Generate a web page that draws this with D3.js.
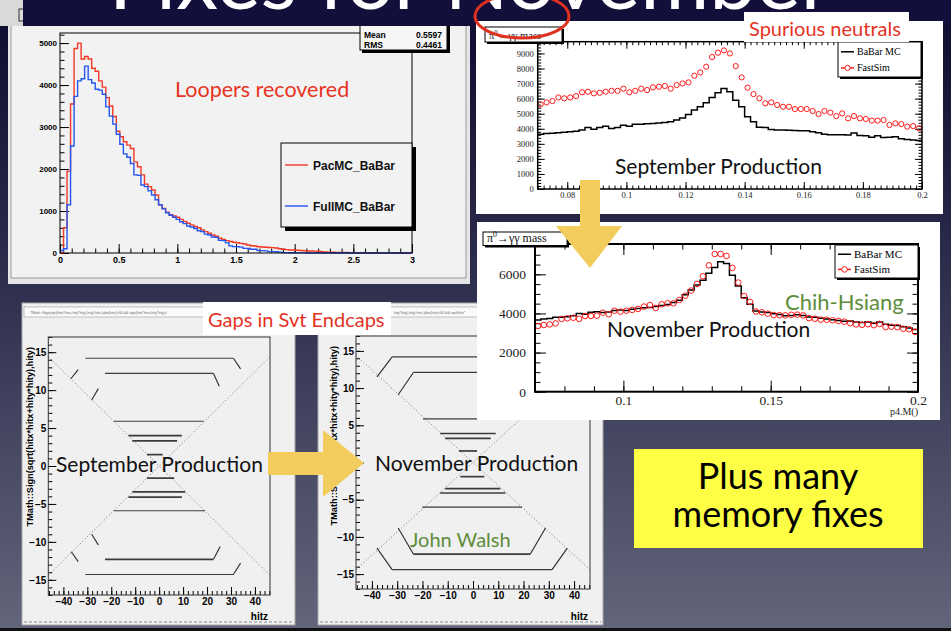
<!DOCTYPE html>
<html>
<head>
<meta charset="utf-8">
<script src="https://cdn.jsdelivr.net/npm/d3@7"></script>
<style>
body{margin:0;background:#111;}
svg{display:block;}
</style>
</head>
<body>
<script>
// ---------- data ----------
// loopers histogram, bins of 0.03 from 0 to 3
const looperBinWidth = 0.03;
const pacmc = [0,600,1950,3550,4870,5000,4620,4680,4620,4400,
	4330,4100,3950,3700,3500,3250,2900,2770,2650,2570,
	2490,2170,2055,1860,1640,1580,1500,1380,1150,1060,
	970,910,880,850,800,750,710,670,630,600,
	550,510,470,430,400,350,320,295,275,255,
	245,230,215,190,172,165,150,142,136,132,
	128,118,100,88,80,72,70,65,60,55,
	48,47,44,40,30,25,20,17,15,14,
	12,12,10,10,8,8,6,6,5,5,
	4,4,3,2,0,0,0,0,0,0];
const fullmc = [60,100,1150,2550,3730,4100,4150,4450,4130,4050,
	3900,3880,3780,3480,3260,3070,2830,2590,2360,2280,
	2130,1860,1850,1620,1580,1480,1380,1270,1150,1050,
	960,900,850,800,746,700,643,620,584,530,
	508,450,429,380,373,300,294,240,170,151,
	151,140,111,111,88,88,56,56,50,32,
	32,30,20,8,8,5,3,3,2,2,
	1,1,1,0,0,0,0,0,0,0,
	0,0,0,0,0,0,0,0,0,0,
	0,0,0,0,0,0,0,0,0,0];
const looperXTicks = [0,0.5,1,1.5,2,2.5,3];
const looperYTicks = [0,1000,2000,3000,4000,5000];

// pi0 mass histograms, bins of 0.002 from 0.07 to 0.2
const massStart = 0.07, massBin = 0.002;
const septBabar = [3640,3680,3700,3740,3770,3800,3830,3910,4080,3960,
	4080,4170,4020,4080,4240,4170,4300,4300,4330,4350,
	4390,4420,4460,4580,4720,4950,5240,5460,5730,6080,
	6390,6680,6460,5900,5460,4800,4470,4100,4090,3950,
	3920,3920,3900,3880,3870,3870,3800,3740,3640,3610,
	3600,3600,3590,3720,3560,3540,3430,3540,3420,3440,
	3470,3340,3280,3250,3220];
const septFast = [5620,5750,5840,6080,6020,6080,6170,6420,6460,6350,
	6390,6460,6520,6520,6660,6420,6520,6660,6570,6750,
	6790,6840,6660,6900,7010,7080,7520,7740,8120,8760,
	9050,9200,9000,8160,7410,6730,6300,6020,5690,5750,
	5580,5460,5460,5310,5310,5310,5180,4980,5180,5070,
	4840,5020,4690,4840,4690,4650,4540,4540,4580,4250,
	4360,4310,4140,4180,4030];
const novBabar = [3665,3716,3740,3800,3810,3830,3880,4000,3960,4060,
	4090,4050,4070,4150,4177,4150,4210,4250,4290,4300,
	4360,4400,4460,4560,4680,4960,5200,5450,5700,6050,
	6350,6640,6550,5950,5400,4800,4470,4130,4080,4050,
	3980,3940,3880,3900,3930,3900,3820,3800,3760,3720,
	3680,3640,3600,3620,3560,3540,3560,3500,3560,3450,
	3400,3380,3320,3250,3180];
const novFast = [3360,3410,3440,3490,3720,3750,3780,3720,3870,3870,
	3890,4040,3960,4140,4090,4140,4180,4230,4350,4430,
	4280,4470,4520,4520,4690,4910,5170,5510,5900,6460,
	7040,7040,6940,6330,5580,4890,4590,4100,4060,3990,
	3920,3910,3900,3930,3940,3900,3760,3730,3680,3680,
	3650,3620,3580,3500,3440,3420,3450,3400,3460,3300,
	3320,3300,3220,3190,3060];
const septMassYTicks = [0,1000,2000,3000,4000,5000,6000,7000,8000,9000];
const septMassXTicks = [0.08,0.1,0.12,0.14,0.16,0.18,0.2];
const novMassYTicks = [0,2000,4000,6000];
const novMassXTicks = [0.1,0.15,0.2];

// svt hit maps: layers [y, zFrom, zTo, heavy], endcap pieces [z0,y0,z1,y1]
const hitzTicks = [-40,-30,-20,-10,0,10,20,30,40];
const hityTicks = [-15,-10,-5,0,5,10,15];
const septLayers = [[14.2,-30.8,31,0],[12.2,-22.6,22.7,0],[5.9,-19,18.6,0],[4.0,-12.8,9.5,1],
	[3.3,-11.2,7.5,1],[1.5,-5.1,1.5,1],[-1.6,-5.1,6.3,1],[-3.4,-11.2,10.9,1],
	[-4.1,-12.8,9.5,1],[-5.9,-19,19.2,0],[-12.3,-22.6,22.7,1],[-14.3,-30.8,31,0]];
const septEndcaps = [[31,14.2,34,12.8],[22.7,12.2,25.1,10.5],[22.7,-12.3,25.5,-10.6],[31,-14.3,34,-12.8],
	[-36.9,11.5,-33.8,12.7],[-28.2,8.7,-25.4,10.2],[-28.2,-9.0,-25.4,-10.4],[-36.7,-11.3,-33.8,-12.6]];
const novLayers = [[14.2,-32,32,0],[12.1,-23.6,23.6,0],[5.85,-19.8,17,0],[3.9,-13,9,1],
	[3.25,-11,7,1],[1.55,-5.6,1.6,1],[-1.9,-5,4.5,1],[-3.5,-11,10.8,1],
	[-4.1,-13,12.8,1],[-6.0,-20.1,19.4,0],[-12.3,-23.6,22.7,1],[-14.4,-32,31.3,0]];
const novEndcaps = [[-32,14.2,-38,11.5],[-23.6,12.1,-29.6,9.1],[32,14.2,38,11.5],[23.6,12.1,29.6,9.1],
	[-23.6,-12.3,-29.6,-8.8],[22.7,-12.3,28.7,-8.8],[-32,-14.4,-38,-11.5],[31.3,-14.4,37.3,-11.5]];
const coneLines = [[-46.3,14.4,46.3,-14.4],[-46.3,-14.4,46.3,14.4]];

// ---------- helpers ----------
const W=951, H=631;
const slideFont='Lato, "Open Sans", sans-serif';
const rootFont='"Liberation Sans", Arial, sans-serif';
const timesFont='"Liberation Serif", "DejaVu Serif", serif';

const svg=d3.select('body').append('svg').attr('width',W).attr('height',H);
const defs=svg.append('defs');
const grad=defs.append('linearGradient').attr('id','bg').attr('x1',0).attr('y1',0).attr('x2',0).attr('y2',1);
grad.append('stop').attr('offset','0%').attr('stop-color','#0e0a30');
grad.append('stop').attr('offset','40%').attr('stop-color','#2a2a4a');
grad.append('stop').attr('offset','100%').attr('stop-color','#63657a');
defs.append('clipPath').attr('id','titleclip').append('rect').attr('x',0).attr('y',0).attr('width',W).attr('height',11);

function rootAxis(g,scale,orient,pos,major,minor,majLen,minLen,fmt,font,size,pad){
	const mk= orient==='bottom'?d3.axisBottom: orient==='top'?d3.axisTop: orient==='left'?d3.axisLeft:d3.axisRight;
	const tr= (orient==='bottom'||orient==='top')?`translate(0,${pos})`:`translate(${pos},0)`;
	if(minor)
		g.append('g').attr('transform',tr)
			.call(mk(scale).tickValues(minor).tickSizeInner(-minLen).tickSizeOuter(0).tickFormat(''))
			.call(a=>a.select('.domain').remove())
			.attr('color','#000');
	const ax=g.append('g').attr('transform',tr)
		.call(mk(scale).tickValues(major).tickSizeInner(-majLen).tickSizeOuter(0).tickPadding(pad||3).tickFormat(fmt||''))
		.call(a=>a.select('.domain').remove());
	ax.attr('font-family',font||rootFont).attr('font-size',size||9).attr('color','#000');
	return ax;
}

function histPoints(vals,start,w){
	const pts=vals.map((v,i)=>[start+i*w,v]);
	pts.push([start+vals.length*w,vals[vals.length-1]]);
	return pts;
}

function slideText(x,y,txt,size,color,anchor){
	return svg.append('text').attr('x',x).attr('y',y)
		.attr('font-family',slideFont).attr('font-size',size)
		.attr('fill',color).attr('text-anchor',anchor||'start').text(txt);
}

const minus=d=> d<0 ? '\u2212'+(-d) : String(d);

// ---------- background ----------
svg.append('rect').attr('width',W).attr('height',H).attr('fill','url(#bg)');

// ---------- loopers panel (top left) ----------
const lp=svg.append('g');
lp.append('rect').attr('x',8).attr('y',0).attr('width',462).attr('height',284).attr('fill','#e6e6e6');
lp.append('rect').attr('x',11).attr('y',-2).attr('width',455).attr('height',280)
	.attr('fill','#f2f2f2').attr('stroke','#9a9a9a');

const lx=d3.scaleLinear().domain([0,3]).range([60,412]);
const ly=d3.scaleLinear().domain([0,5240]).range([253,33]);

rootAxis(lp,ly,'left',60,looperYTicks,d3.range(0,5241,200),9,4.5,d=>d,rootFont,8,3)
	.attr('font-weight','bold');
rootAxis(lp,lx,'bottom',253,looperXTicks,d3.range(0,3.001,0.1),9,4.5,d=>d,rootFont,9,4)
	.attr('font-weight','bold');

const lline=d3.line().x(d=>lx(d[0])).y(d=>ly(d[1])).curve(d3.curveStepAfter);
lp.append('path').attr('d',lline(histPoints(pacmc,0,looperBinWidth)))
	.attr('fill','none').attr('stroke','#f03a26').attr('stroke-width',1.4);
lp.append('path').attr('d',lline(histPoints(fullmc,0,looperBinWidth)))
	.attr('fill','none').attr('stroke','#2357f0').attr('stroke-width',1.4);
lp.append('rect').attr('x',60).attr('y',33).attr('width',352).attr('height',220)
	.attr('fill','none').attr('stroke','#000');

// stats box
lp.append('rect').attr('x',362).attr('y',14).attr('width',88).attr('height',39).attr('fill','#000');
lp.append('rect').attr('x',360).attr('y',12).attr('width',87).attr('height',38)
	.attr('fill','#f6f6f6').attr('stroke','#000');
[['Mean','0.5597',38],['RMS','0.4461',48]].forEach(r=>{
	lp.append('text').attr('x',364).attr('y',r[2]).attr('font-family',rootFont).attr('font-weight','bold')
		.attr('font-size',8.5).text(r[0]);
	lp.append('text').attr('x',442).attr('y',r[2]).attr('font-family',rootFont).attr('font-weight','bold')
		.attr('font-size',8.5).attr('text-anchor','end').text(r[1]);
});

// legend
lp.append('rect').attr('x',285).attr('y',147).attr('width',131).attr('height',84).attr('fill','#000');
lp.append('rect').attr('x',281).attr('y',143).attr('width',131).attr('height',84)
	.attr('fill','#f2f2f2').attr('stroke','#000');
[['PacMC_BaBar','#f03a26',165],['FullMC_BaBar','#2357f0',206]].forEach(r=>{
	lp.append('line').attr('x1',285).attr('x2',308).attr('y1',r[2]).attr('y2',r[2])
		.attr('stroke',r[1]).attr('stroke-width',1.4);
	lp.append('text').attr('x',313).attr('y',r[2]+4.5).attr('font-family',rootFont).attr('font-weight','bold')
		.attr('font-size',12).attr('fill','#111').text(r[0]);
});
slideText(175,97,'Loopers recovered',21.5,'#e8331f');

// ---------- title band ----------
svg.append('rect').attr('x',0).attr('y',0).attr('width',23).attr('height',26).attr('fill','#d9d9d9');
svg.append('rect').attr('x',19).attr('y',9).attr('width',8).attr('height',12).attr('fill','none').attr('stroke','#333');
svg.append('rect').attr('x',23).attr('y',0).attr('width',W-23).attr('height',26).attr('fill','#130f3b');
svg.append('g').attr('clip-path','url(#titleclip)')
	.append('text').attr('x',470).attr('y',9).attr('font-family',slideFont).attr('font-size',84)
	.attr('fill','#fff').attr('text-anchor','middle').text('Fixes for November');

// ---------- svt hit maps ----------
function hitPanel(px,pw,fx0,fx1,fy0,fy1,layers,endcaps,titleX,tiny){
	const g=svg.append('g');
	g.append('rect').attr('x',px).attr('y',303).attr('width',pw).attr('height',322)
		.attr('fill','#f0f0f0').attr('stroke','#a8a8a8');
	g.append('line').attr('x1',px+2).attr('x2',px+pw-2).attr('y1',622).attr('y2',622)
		.attr('stroke','#888').attr('stroke-dasharray','3,2');
	g.append('rect').attr('x',px+2).attr('y',307).attr('width',pw-6).attr('height',10)
		.attr('fill','#fafafa').attr('stroke','#999').attr('stroke-width',0.6);
	g.append('text').attr('x',tiny[0]).attr('y',313.5).attr('font-family',rootFont).attr('font-size',3.6)
		.attr('fill','#666').text(tiny[1]);
	const x=d3.scaleLinear().domain([-46.3,46.3]).range([fx0,fx1]);
	const y=d3.scaleLinear().domain([-17,17]).range([fy1,fy0]);
	g.selectAll('line.cone').data(coneLines).join('line').attr('class','cone')
		.attr('x1',d=>x(d[0])).attr('y1',d=>y(d[1])).attr('x2',d=>x(d[2])).attr('y2',d=>y(d[3]))
		.attr('stroke','#777').attr('stroke-width',0.9).attr('stroke-dasharray','1.2,2.2');
	g.selectAll('line.layer').data(layers).join('line').attr('class','layer')
		.attr('x1',d=>x(d[1])).attr('x2',d=>x(d[2])).attr('y1',d=>y(d[0])).attr('y2',d=>y(d[0]))
		.attr('stroke','#1c1c1c').attr('stroke-opacity',0.85).attr('stroke-width',d=>d[3]?1.7:1.2);
	g.selectAll('line.cap').data(endcaps).join('line').attr('class','cap')
		.attr('x1',d=>x(d[0])).attr('y1',d=>y(d[1])).attr('x2',d=>x(d[2])).attr('y2',d=>y(d[3]))
		.attr('stroke','#2a2a2a').attr('stroke-width',1.1);
	rootAxis(g,y,'left',fx0,hityTicks,d3.range(-17,17.01,1),8,4,minus,rootFont,10,2)
		.attr('font-weight','bold');
	rootAxis(g,x,'bottom',fy1,hitzTicks,d3.range(-46,46.01,2),8,4,minus,rootFont,10,3)
		.attr('font-weight','bold');
	g.append('rect').attr('x',fx0).attr('y',fy0).attr('width',fx1-fx0).attr('height',fy1-fy0)
		.attr('fill','none').attr('stroke','#333');
	g.append('text').attr('x',fx1-2).attr('y',620).attr('font-family',rootFont).attr('font-weight','bold')
		.attr('font-size',10).attr('text-anchor','end').text('hitz');
	g.append('text').attr('transform',`translate(${titleX},${fy0+10}) rotate(-90)`)
		.attr('font-family',rootFont).attr('font-weight','bold').attr('font-size',9.2)
		.attr('text-anchor','end').text('TMath::Sign(sqrt(hitx*hitx+hity*hity),hity)');
	return g;
}
hitPanel(22,273,48.3,270,337,595,septLayers,septEndcaps,33,
	[30,'TMath::Sign(sqrt(hitx*hitx+hity*hity),hity):hitz {abs(hitz)<60 && sqrt(hitx*hitx+hity*hity)<']);
hitPanel(318,285,356,590,336,589,novLayers,novEndcaps,337,
	[394,'hity*hity),hity):hitz {abs(hitz)<60 && sqrt(hitx*']);
slideText(56,472,'September Production',21,'#111');
slideText(375,471,'November Production',21,'#111');
slideText(410,547,'John Walsh',20,'#5e8c3a');

svg.append('rect').attr('x',203).attr('y',302).attr('width',188).attr('height',33).attr('fill','#fff');
slideText(208,327,'Gaps in Svt Endcaps',20,'#e3321f');

// right arrow
svg.append('path')
	.attr('d','M268,452 L323,452 L323,430 L364,463 L323,497 L323,475 L268,475 Z')
	.attr('fill','#f2cd5e');

// ---------- pi0 mass plots ----------
function massPanel(cfg){
	const g=svg.append('g');
	g.append('rect').attr('x',cfg.box[0]).attr('y',cfg.box[1]).attr('width',cfg.box[2]).attr('height',cfg.box[3])
		.attr('fill','#fff');
	const x=d3.scaleLinear().domain([0.07,0.2]).range(cfg.fx);
	const y=d3.scaleLinear().domain([0,cfg.ymax]).range([cfg.fy[1],cfg.fy[0]]);
	rootAxis(g,y,'left',cfg.fx[0],cfg.yTicks,d3.range(0,cfg.ymax,cfg.yMinor),cfg.maj,cfg.min,d=>d,timesFont,cfg.ySize,cfg.yPad)
		.attr('fill','#222');
	rootAxis(g,y,'right',cfg.fx[1],cfg.yTicks,d3.range(0,cfg.ymax,cfg.yMinor),cfg.maj,cfg.min,'',timesFont,1,0);
	rootAxis(g,x,'bottom',cfg.fy[1],cfg.xTicks,d3.range(0.07,0.2001,cfg.xMinor),cfg.maj,cfg.min,d=>d,timesFont,cfg.xSize,cfg.xPad);
	rootAxis(g,x,'top',cfg.fy[0],cfg.xTicks,d3.range(0.07,0.2001,cfg.xMinor),cfg.maj,cfg.min,'',timesFont,1,0);
	g.selectAll('.tick text').attr('fill','#222');
	const line=d3.line().x(d=>x(d[0])).y(d=>y(d[1])).curve(d3.curveStepAfter);
	g.append('path').attr('d',line(histPoints(cfg.babar,massStart,massBin)))
		.attr('fill','none').attr('stroke','#000').attr('stroke-width',1.5);
	g.selectAll('circle.fs').data(cfg.fast).join('circle').attr('class','fs')
		.attr('cx',(d,i)=>x(massStart+(i+0.5)*massBin)).attr('cy',d=>y(d))
		.attr('r',cfg.r).attr('fill','none').attr('stroke','#ff1a1a').attr('stroke-width',1);
	g.append('rect').attr('x',cfg.fx[0]).attr('y',cfg.fy[0]).attr('width',cfg.fx[1]-cfg.fx[0]).attr('height',cfg.fy[1]-cfg.fy[0])
		.attr('fill','none').attr('stroke','#000').attr('stroke-width',cfg.frameW);
	// title box
	const t=cfg.title;
	g.append('rect').attr('x',t[0]+2).attr('y',t[1]+2).attr('width',t[2]).attr('height',t[3]).attr('fill','#000');
	g.append('rect').attr('x',t[0]).attr('y',t[1]).attr('width',t[2]).attr('height',t[3])
		.attr('fill','#fff').attr('stroke','#000');
	const tt=g.append('text').attr('x',t[0]+4).attr('y',t[1]+t[3]-3.5).attr('font-family',timesFont)
		.attr('font-size',cfg.tSize).attr('fill','#111');
	tt.append('tspan').text('\u03c0');
	tt.append('tspan').attr('dy',-cfg.tSize*0.4).attr('font-size',cfg.tSize*0.65).text('0');
	tt.append('tspan').attr('dy',cfg.tSize*0.4).text('\u2192\u03b3\u03b3 mass');
	// legend
	const L=cfg.legend;
	g.append('rect').attr('x',L[0]+2).attr('y',L[1]+2).attr('width',L[2]).attr('height',L[3]).attr('fill','#000');
	g.append('rect').attr('x',L[0]).attr('y',L[1]).attr('width',L[2]).attr('height',L[3])
		.attr('fill','#fff').attr('stroke','#000');
	const r1=L[1]+L[3]*0.28, r2=L[1]+L[3]*0.74;
	g.append('line').attr('x1',L[0]+3).attr('x2',L[0]+16).attr('y1',r1).attr('y2',r1).attr('stroke','#000').attr('stroke-width',1.5);
	g.append('line').attr('x1',L[0]+3).attr('x2',L[0]+16).attr('y1',r2).attr('y2',r2).attr('stroke','#ff1a1a').attr('stroke-width',1.5);
	g.append('circle').attr('cx',L[0]+9.5).attr('cy',r2).attr('r',cfg.r).attr('fill','#fff').attr('stroke','#ff1a1a');
	g.append('text').attr('x',L[0]+19).attr('y',r1+cfg.lSize*0.35).attr('font-family',timesFont)
		.attr('font-size',cfg.lSize).text('BaBar MC');
	g.append('text').attr('x',L[0]+19).attr('y',r2+cfg.lSize*0.35).attr('font-family',timesFont)
		.attr('font-size',cfg.lSize).text('FastSim');
	return g;
}

massPanel({box:[476,21,467,193],fx:[537.7,922],fy:[41.7,189],ymax:9780,yTicks:septMassYTicks,yMinor:200,
	xTicks:septMassXTicks,xMinor:0.002,maj:7,min:3.5,ySize:8.5,yPad:4,xSize:8.5,xPad:3,
	babar:septBabar,fast:septFast,r:2.6,frameW:1.5,title:[485,27,77,15],tSize:10.5,
	legend:[838,42,83,35],lSize:10});
svg.append('rect').attr('x',744).attr('y',12).attr('width',165).attr('height',30).attr('fill','#fff');
slideText(749,36,'Spurious neutrals',20,'#e3321f');
slideText(615,174,'September Production',21,'#111');

const nov=massPanel({box:[477,222,463,198],fx:[535,918],fy:[244,391.7],ymax:7550,yTicks:novMassYTicks,yMinor:500,
	xTicks:novMassXTicks,xMinor:0.01,maj:11,min:5.5,ySize:13.5,yPad:9,xSize:13.5,xPad:4,
	babar:novBabar,fast:novFast,r:2.8,frameW:2,title:[483,232,84,13.5],tSize:12,
	legend:[835,245,83,33],lSize:11});
nov.append('text').attr('x',918).attr('y',415).attr('font-family',timesFont).attr('font-size',10)
	.attr('text-anchor','end').attr('fill','#222').text('p4.M()');
slideText(607,337,'November Production',21,'#111');
slideText(785,310,'Chih-Hsiang',22,'#5e8c3a');

// down arrow
svg.append('path')
	.attr('d','M580,180 L600,180 L600,226 L622,226 L590,268 L556,226 L580,226 Z')
	.attr('fill','#f2cd5e');

// red ellipse round the title box
svg.append('ellipse').attr('cx',522).attr('cy',16).attr('rx',47).attr('ry',22)
	.attr('fill','none').attr('stroke','#e0301e').attr('stroke-width',3);

// ---------- yellow box ----------
svg.append('rect').attr('x',634).attr('y',449).attr('width',289).attr('height',99).attr('fill','#fefe45');
const note=svg.append('text').attr('font-family',slideFont).attr('font-size',36)
	.attr('fill','#000').attr('text-anchor','middle');
note.append('tspan').attr('x',778).attr('y',489).text('Plus many');
note.append('tspan').attr('x',778).attr('y',527).text('memory fixes');

svg.append('rect').attr('x',0).attr('y',628).attr('width',W).attr('height',3).attr('fill','#111');
</script>
</body>
</html>
